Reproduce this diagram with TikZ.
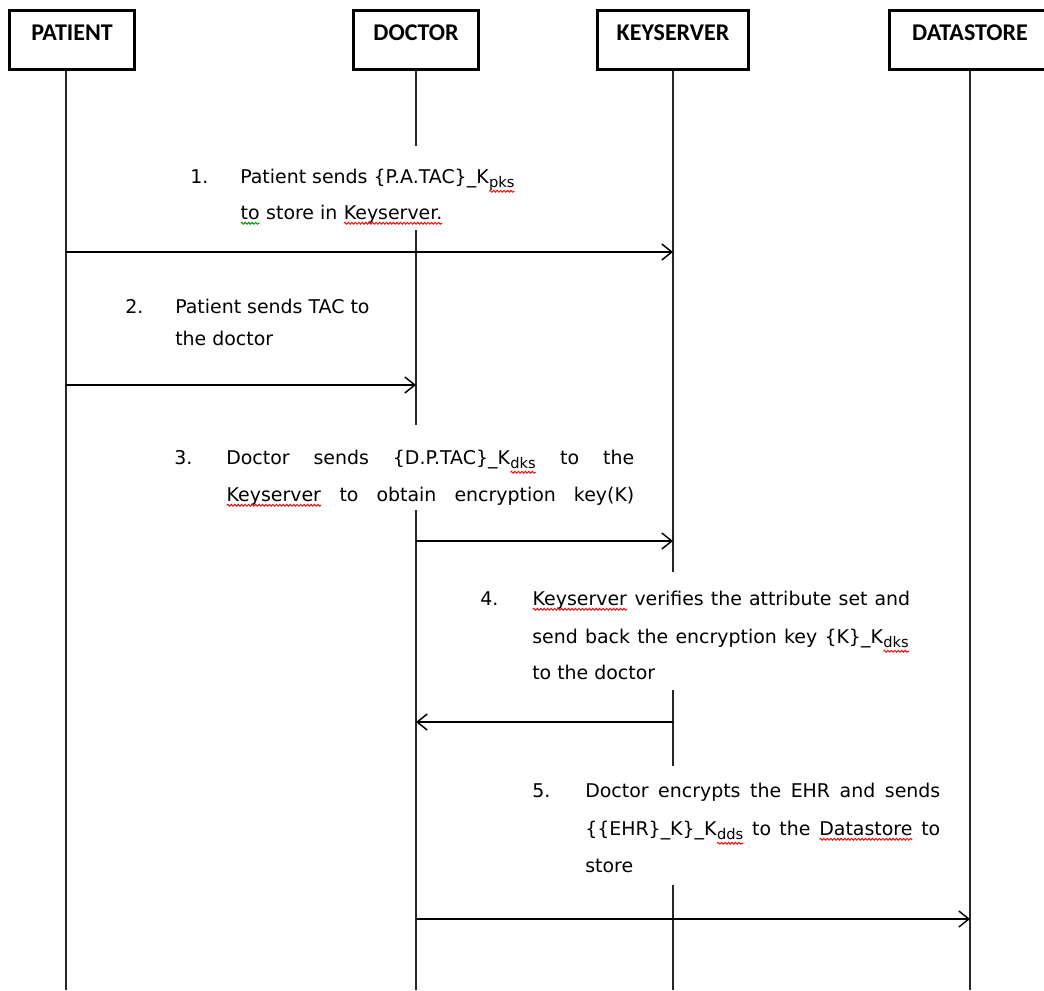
\documentclass[tikz,border=0pt]{standalone}
\usepackage{fontspec}
\setmainfont{DejaVu Sans}
\newfontfamily\headfont{Carlito}
\usetikzlibrary{arrows.meta,decorations.pathmorphing}

% spell-checker style wavy underlines
\newcommand\spellwave[2]{\tikz[baseline=(wv.base),x=1pt,y=1pt]{%
  \node[inner sep=0pt, outer sep=0pt, anchor=base] (wv) at (0,0) {#2};
  \draw[#1, line width=0.7pt, decorate, decoration={snake, amplitude=0.7pt, segment length=2.6pt}]
    ([yshift=-3.2pt]wv.base west) -- ([yshift=-3.2pt]wv.base east);}}
\newcommand\redwave[1]{\spellwave{red}{#1}}
\newcommand\greenwave[1]{\spellwave{green!55!black}{#1}}
\newcommand\bodyfont{\fontsize{14.2pt}{17pt}\selectfont}
% key subscript, set a little larger than \textsubscript
\newcommand\keysub[1]{\raisebox{-3pt}{\fontsize{11pt}{11pt}\selectfont\redwave{#1}}}

\tikzset{
  actor/.style={draw, line width=2.2pt, inner sep=0pt, text height=22pt, text depth=22pt,
                anchor=base, font=\headfont\bfseries\fontsize{18pt}{21pt}\selectfont},
  life/.style={line width=1pt, black!85},
  msg/.style={line width=1.1pt, -{Straight Barb[length=7.5pt,width=12pt,line width=1.1pt]}},
  txt/.style={anchor=base west, inner sep=0pt, font=\bodyfont},
  mask/.style={fill=white},
}

\begin{document}
\begin{tikzpicture}[x=0.75pt,y=-0.75pt]
\useasboundingbox (0,0) rectangle (1044,990);

% participants
\node[actor, minimum width=93.75pt]  (patient) at (72,40)  {PATIENT};
\node[actor, minimum width=93.75pt]  (doctor)  at (416,40) {DOCTOR};
\node[actor, minimum width=113.25pt] (keysrv)  at (673,40) {KEYSERVER};
\node[actor, minimum width=120.75pt] (datast)  at (970,40) {DATASTORE};

% lifeline ends
\coordinate (patL) at (66,990);
\coordinate (docL) at (416,990);
\coordinate (keyL) at (673,990);
\coordinate (datL) at (970,990);

\draw[life] (patient.south -| patL) -- (patL);
\draw[life] (doctor.south) -- (docL);
\draw[life] (keysrv.south) -- (keyL);
\draw[life] (datast.south) -- (datL);

% white panels behind the step descriptions
\fill[mask] (175,146) rectangle (560,230);
\fill[mask] (165,425) rectangle (645,510);
\fill[mask] (470,572) rectangle (920,690);
\fill[mask] (520,766) rectangle (950,885);

% step 1
\node[txt] (n1)  at (190,183) {1.};
\node[txt] (s1a) at (240,183) {Patient sends \{P.A.TAC\}\_K\keysub{pks}};
\node[txt] (s1b) at (240,219) {\greenwave{to} store in \redwave{Keyserver.}};

% step 2
\node[txt] (n2)  at (125,313) {2.};
\node[txt] (s2a) at (175,313) {Patient sends TAC to};
\node[txt] (s2b) at (175,345) {the doctor};

% step 3
\node[txt] (n3)  at (174,464) {3.};
\node[txt] (s3a) at (226,464) {\makebox[306pt][s]{Doctor sends \{D.P.TAC\}\_K\keysub{dks} to the}};
\node[txt] (s3b) at (226,501) {\makebox[306pt][s]{\redwave{Keyserver} to obtain encryption key(K)}};

% step 4
\node[txt] (n4)  at (480,605) {4.};
\node[txt] (s4a) at (532,605) {\makebox[283.5pt][s]{\redwave{Keyserver} verifies the attribute set and}};
\node[txt] (s4b) at (532,643) {\makebox[282.75pt][s]{send back the encryption key \{K\}\_K\keysub{dks}}};
\node[txt] (s4c) at (532,679) {to the doctor};

% step 5
\node[txt] (n5)  at (532,797) {5.};
\node[txt] (s5a) at (585,797) {\makebox[266.25pt][s]{Doctor encrypts the EHR and sends}};
\node[txt] (s5b) at (585,835) {\makebox[266.25pt][s]{\{\{EHR\}\_K\}\_K\keysub{dds} to the \redwave{Datastore} to}};
\node[txt] (s5c) at (585,872) {store};

% message rows
\coordinate (m1) at (0,252);
\coordinate (m2) at (0,385);
\coordinate (m3) at (0,541);
\coordinate (m4) at (0,722);
\coordinate (m5) at (0,919);

\draw[msg] (patL |- m1) -- (keyL |- m1);
\draw[msg] (patL |- m2) -- (docL |- m2);
\draw[msg] (docL |- m3) -- (keyL |- m3);
\draw[msg] (keyL |- m4) -- (docL |- m4);
\draw[msg] (docL |- m5) -- (datL |- m5);
\end{tikzpicture}
\end{document}
